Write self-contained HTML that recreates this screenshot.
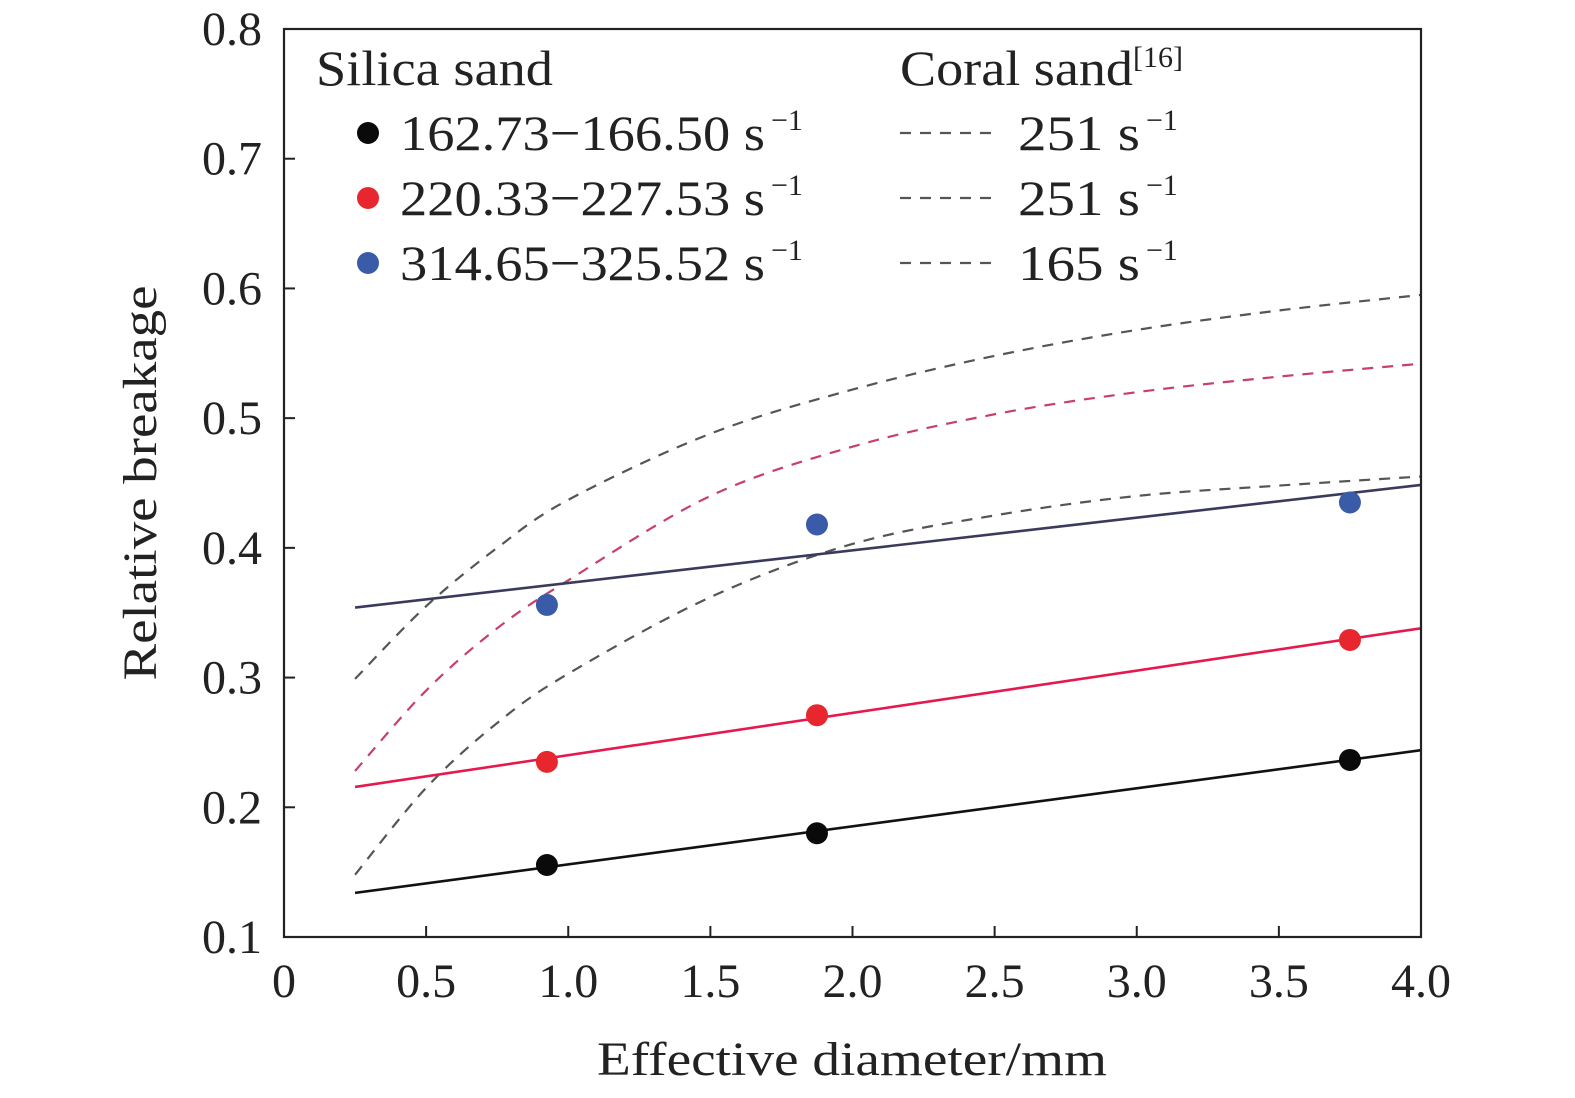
<!DOCTYPE html>
<html><head><meta charset="utf-8"><style>html,body{margin:0;background:#fff;overflow:hidden}svg{display:block}text{font-family:"Liberation Serif",serif;fill:#222}</style></head>
<body>
<svg id="chart" width="1575" height="1098" xmlns="http://www.w3.org/2000/svg">
<text x="852" y="1075" font-size="48" text-anchor="middle" textLength="510" lengthAdjust="spacingAndGlyphs">Effective diameter/mm</text>
<text transform="translate(156,483) rotate(-90)" font-size="48" text-anchor="middle" textLength="395" lengthAdjust="spacingAndGlyphs">Relative breakage</text>
<g>
<text x="316" y="85" font-size="50" textLength="237" lengthAdjust="spacingAndGlyphs">Silica sand</text>
<circle cx="368" cy="133" r="11" fill="#0a0a0a"/>
<circle cx="368" cy="198" r="11" fill="#e8262e"/>
<circle cx="368" cy="263" r="11" fill="#3a5ba8"/>
<text x="400" y="150" font-size="50"><tspan textLength="365" lengthAdjust="spacingAndGlyphs">162.73−166.50 s</tspan><tspan dx="6" dy="-20" font-size="30">−1</tspan></text>
<text x="400" y="215" font-size="50"><tspan textLength="365" lengthAdjust="spacingAndGlyphs">220.33−227.53 s</tspan><tspan dx="6" dy="-20" font-size="30">−1</tspan></text>
<text x="400" y="280" font-size="50"><tspan textLength="365" lengthAdjust="spacingAndGlyphs">314.65−325.52 s</tspan><tspan dx="6" dy="-20" font-size="30">−1</tspan></text>
<text x="900" y="85" font-size="50"><tspan textLength="233" lengthAdjust="spacingAndGlyphs">Coral sand</tspan><tspan dy="-18" font-size="30">[16]</tspan></text>
<line x1="900" x2="996" y1="133" y2="133" stroke="#555" stroke-width="2.2" stroke-dasharray="11 9"/>
<line x1="900" x2="996" y1="198" y2="198" stroke="#555" stroke-width="2.2" stroke-dasharray="11 9"/>
<line x1="900" x2="996" y1="263" y2="263" stroke="#555" stroke-width="2.2" stroke-dasharray="11 9"/>
<text x="1018" y="150" font-size="50"><tspan textLength="122" lengthAdjust="spacingAndGlyphs">251 s</tspan><tspan dx="6" dy="-20" font-size="30">−1</tspan></text>
<text x="1018" y="215" font-size="50"><tspan textLength="122" lengthAdjust="spacingAndGlyphs">251 s</tspan><tspan dx="6" dy="-20" font-size="30">−1</tspan></text>
<text x="1018" y="280" font-size="50"><tspan textLength="122" lengthAdjust="spacingAndGlyphs">165 s</tspan><tspan dx="6" dy="-20" font-size="30">−1</tspan></text>
</g>
</svg>
<script>
const xTicks=[0,0.5,1.0,1.5,2.0,2.5,3.0,3.5,4.0];
const xTickLabels=["0","0.5","1.0","1.5","2.0","2.5","3.0","3.5","4.0"];
const yTicks=[0.1,0.2,0.3,0.4,0.5,0.6,0.7,0.8];
const yTickLabels=["0.1","0.2","0.3","0.4","0.5","0.6","0.7","0.8"];
const pointX=[0.925,1.875,3.75];
const blackPts=[0.1555,0.180,0.2365];
const redPts=[0.235,0.271,0.329];
const bluePts=[0.356,0.418,0.435];
const fitX=[0.25,4.0];
const blackFit=[0.134,0.244];
const redFit=[0.2157,0.338];
const blueFit=[0.354,0.4485];
const curveX=[0.25,0.5,0.75,1.0,1.5,2.0,2.5,3.0,3.5,4.0];
const coralTop=[0.299,0.355,0.40,0.437,0.488,0.522,0.548,0.568,0.583,0.595];
const coralRed=[0.228,0.29,0.338,0.375,0.44,0.478,0.503,0.52,0.532,0.542];
const coralLow=[0.148,0.215,0.265,0.303,0.362,0.403,0.425,0.44,0.448,0.455];

const L=284,R=1421,T=29,B=937;
const sx=v=>L+(v-0)/(4-0)*(R-L);
const sy=v=>B-(v-0.1)/(0.8-0.1)*(B-T);
const svg=document.getElementById('chart');
const NS="http://www.w3.org/2000/svg";
function mk(tag,attrs,parent){const e=document.createElementNS(NS,tag);for(const k in attrs)e.setAttribute(k,attrs[k]);(parent||svg).appendChild(e);return e;}

function smooth(xs,ys){const P=xs.map((x,i)=>[sx(x),sy(ys[i])]);
 let d="M"+P[0][0]+","+P[0][1];
 for(let i=0;i<P.length-1;i++){const p0=P[Math.max(i-1,0)],p1=P[i],p2=P[i+1],p3=P[Math.min(i+2,P.length-1)];
  const c1=[p1[0]+(p2[0]-p0[0])/6,p1[1]+(p2[1]-p0[1])/6],c2=[p2[0]-(p3[0]-p1[0])/6,p2[1]-(p3[1]-p1[1])/6];
  d+=" C"+c1+" "+c2+" "+p2;}
 return d;}

let e;
e=mk('path',{d:smooth(curveX,coralTop),fill:'none',stroke:'#555','stroke-width':2.2,'stroke-dasharray':'11 9'});


e=mk('path',{d:smooth(curveX,coralRed),fill:'none',stroke:'#c8406a','stroke-width':2.2,'stroke-dasharray':'11 9'});


e=mk('path',{d:smooth(curveX,coralLow),fill:'none',stroke:'#555','stroke-width':2.2,'stroke-dasharray':'11 9'});



const fits=[[blackFit,'#111','black-fit-line'],[redFit,'#e5194d','red-fit-line'],[blueFit,'#3a3a5e','blue-fit-line']];
fits.forEach(f=>{e=mk('line',{x1:sx(fitX[0]),y1:sy(f[0][0]),x2:sx(fitX[1]),y2:sy(f[0][1]),stroke:f[1],'stroke-width':2.6});
 
 });

const pts=[[blackPts,'#0a0a0a','black-point'],[redPts,'#e8262e','red-point'],[bluePts,'#3a5ba8','blue-point']];
pts.forEach(p=>p[0].forEach((v,i)=>{e=mk('circle',{cx:sx(pointX[i]),cy:sy(v),r:11,fill:p[1]});
 
 }));

e=mk('rect',{x:L,y:T,width:R-L,height:B-T,fill:'none',stroke:'#222','stroke-width':2.2});



xTicks.forEach((v,i)=>{mk('line',{x1:sx(v),x2:sx(v),y1:B,y2:B-11,stroke:'#222','stroke-width':2});
 e=mk('text',{x:sx(v),y:997,'font-size':48,'text-anchor':'middle'});e.textContent=xTickLabels[i];
 
 });
yTicks.forEach((v,i)=>{mk('line',{x1:L,x2:L+11,y1:sy(v),y2:sy(v),stroke:'#222','stroke-width':2});
 e=mk('text',{x:262,y:sy(v)+16,'font-size':48,'text-anchor':'end'});e.textContent=yTickLabels[i];
 
 });
</script>
</body></html>
